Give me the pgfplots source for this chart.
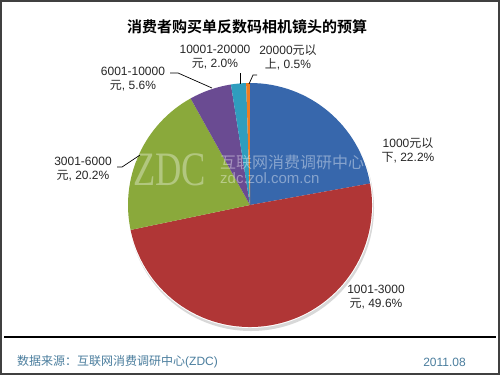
\documentclass[border=0pt]{standalone}
\usepackage{pgfplots}
\usepackage{pgfplotstable}
\pgfplotsset{compat=1.18}
\usepackage{fontspec}
\setmainfont{Liberation Sans}
\newfontfamily\cjk{Noto Sans CJK SC}
\newfontfamily\cjkb{Noto Sans CJK SC Bold}
\newfontfamily\serifw{Liberation Serif}
\newcommand\zh[1]{{\cjk #1}}

\definecolor{pie0}{HTML}{3767AC}
\definecolor{pie1}{HTML}{B03636}
\definecolor{pie2}{HTML}{8AA93B}
\definecolor{pie3}{HTML}{6A4B92}
\definecolor{pie4}{HTML}{2F9DBE}
\definecolor{pie5}{HTML}{EE7D22}
\definecolor{foot}{HTML}{4B7E9E}

\pgfplotstableread{
pct
22.2
49.6
20.2
5.6
2.0
0.5
}\piedata

\begin{document}
\begin{tikzpicture}[font=\fontsize{12bp}{14bp}\selectfont]
\begin{axis}[
  x=1bp, y=1bp, xmin=0, xmax=500, ymin=0, ymax=375,
  hide axis, clip=false, scale only axis,
]
\addplot[draw=none, forget plot] coordinates {(0,0) (500,375)};
\pgfplotsextra{%
  % frame
  \fill[white] (axis cs:0,0) rectangle (axis cs:500,375);
  \draw[line width=2bp, black!75] (axis cs:1,1) rectangle (axis cs:499,374);
  \draw[line width=1.2bp, black] (axis cs:4,38) -- (axis cs:496,38);
  % shadow
  \fill[black!25, opacity=0.6] (axis cs:251,167) circle[radius=123bp];
  \fill[white] (axis cs:250,170) circle[radius=123bp];
  % total
  \gdef\pietotal{0}%
  \foreach \i in {0,...,5}{%
    \pgfplotstablegetelem{\i}{pct}\of\piedata
    \pgfmathsetmacro\tmp{\pietotal+\pgfplotsretval}%
    \xdef\pietotal{\tmp}%
  }%
  \gdef\curang{90}%
  \foreach \i in {0,...,5}{%
    \pgfplotstablegetelem{\i}{pct}\of\piedata
    \pgfmathsetmacro\sweep{\pgfplotsretval/\pietotal*360}%
    \pgfmathsetmacro\angB{\curang-\sweep}%
    \fill[pie\i] (axis cs:250,170) -- ++(\curang:122bp) arc[start angle=\curang, end angle=\angB, radius=122bp] -- cycle;
    \xdef\curang{\angB}%
  }%
  % watermark
  \node[white, opacity=0.35, anchor=west, font=\serifw\fontsize{48bp}{48bp}\selectfont, inner sep=0, xscale=0.76] at (axis cs:133,205) {ZDC};
  \node[white, opacity=0.4, anchor=west, font=\cjk\fontsize{16bp}{16bp}\selectfont, inner sep=0] at (axis cs:220,213) {互联网消费调研中心};
  \node[white, opacity=0.4, anchor=west, font=\fontsize{15bp}{15bp}\selectfont, inner sep=0] at (axis cs:220,197) {zdc.zol.com.cn};
  % leader lines
  \draw[black, line width=0.7bp] (axis cs:117,208) -- (axis cs:122,208) -- (axis cs:140,220);
  \draw[black, line width=0.7bp] (axis cs:170,302) -- (axis cs:178,302) -- (axis cs:212,287);
  \draw[black, line width=0.7bp] (axis cs:240,302) -- (axis cs:240,291);
  \draw[black, line width=0.7bp] (axis cs:257,300) -- (axis cs:253,300) -- (axis cs:249,291);
  % labels
  \node[align=center, inner sep=0, text=black!85] at (axis cs:408,225) {1000\zh{元以}\\\zh{下}, 22.2\%};
  \node[align=center, inner sep=0, text=black!85] at (axis cs:376,78) {1001-3000\\\zh{元}, 49.6\%};
  \node[align=center, inner sep=0, text=black!85] at (axis cs:83,206) {3001-6000\\\zh{元}, 20.2\%};
  \node[align=center, inner sep=0, text=black!85] at (axis cs:133,296) {6001-10000\\\zh{元}, 5.6\%};
  \node[align=center, inner sep=0, text=black!85] at (axis cs:215,318) {10001-20000\\\zh{元}, 2.0\%};
  \node[align=center, inner sep=0, text=black!85] at (axis cs:288,318) {20000\zh{元以}\\\zh{上}, 0.5\%};
  % title
  \node[inner sep=0, font=\cjkb\fontsize{15bp}{15bp}\selectfont] at (axis cs:247,348) {消费者购买单反数码相机镜头的预算};
  % footer
  \node[anchor=west, inner sep=0, text=foot] at (axis cs:17,13) {\zh{数据来源：互联网消费调研中心}(ZDC)};
  \node[anchor=east, inner sep=0, text=foot] at (axis cs:466,13) {2011.08};
}
\end{axis}
\end{tikzpicture}
\end{document}
